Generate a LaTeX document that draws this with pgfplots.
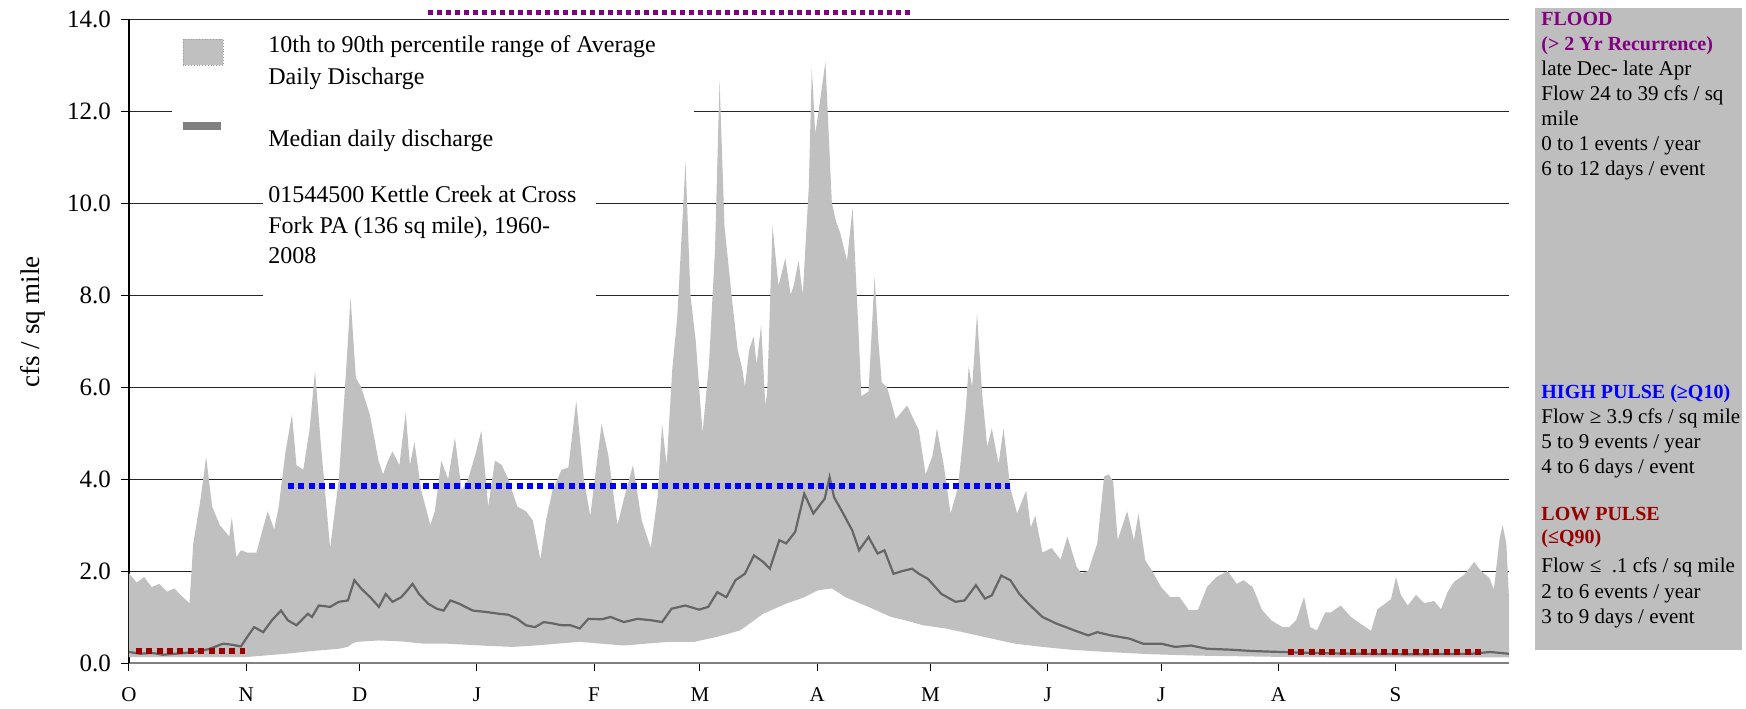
\documentclass[border=0pt]{standalone}
\usepackage{fontspec}
\setmainfont{Liberation Serif}
\usepackage{pgfplots}
\usepackage{pgfplotstable}
\pgfplotsset{compat=1.18}

\definecolor{band}{HTML}{C0C0C0}
\definecolor{medline}{HTML}{666666}
\definecolor{flood}{HTML}{800080}
\definecolor{highp}{HTML}{0000FF}
\definecolor{lowp}{HTML}{990000}
\definecolor{panel}{HTML}{BEBEBE}

% band outline: 90th percentile from 1 Oct to 30 Sep, then 10th percentile back
% (day of water year, cfs / sq mile)
\pgfplotstableread{
day q
0 1.95
2 1.75
4 1.87
6 1.65
8 1.72
10 1.55
12 1.62
14 1.45
16 1.30
17 2.6
19 3.6
20.4 4.48
22 3.4
24 3.0
26.5 2.75
27.2 3.17
28.4 2.3
29.6 2.45
31.3 2.4
33.7 2.4
35.5 2.95
36.7 3.3
38.4 2.9
39.6 3.4
41.4 4.6
43.1 5.4
44.3 4.3
46.1 4.2
47.8 5.1
49.2 6.35
50.8 4.7
53.2 2.5
55.5 4.0
57.3 6.2
58.6 7.95
60 6.2
61.4 6.0
63.7 5.4
66 4.4
67.2 4.1
68.5 4.4
69.7 4.6
71.5 4.3
73.2 5.45
74.3 4.3
75.5 4.8
77.3 3.75
79.7 3.0
80.9 3.3
82.6 4.4
84.4 4.0
86.2 4.9
88 3.75
89.7 4.0
91.5 4.5
93.2 5.05
95 3.4
96.8 4.4
98.6 4.3
100.3 4.0
102.7 3.4
105 3.3
106.8 3.1
108.8 2.25
110.3 3.1
112 3.75
114.4 4.2
116.2 4.25
118.3 5.7
120.3 4.0
122 3.2
125 5.2
126.8 4.5
129.2 3.0
131 3.6
133.3 4.3
135.6 3.1
138 2.5
139.8 3.6
141 5.2
142.2 4.3
143.7 6.4
145 7.5
147.2 10.9
148.5 8.0
149.9 7.0
151.7 5.0
153.4 6.5
155 9.0
156.2 12.67
157.5 9.5
159.5 7.9
161 6.8
162.2 6.4
162.9 6.0
164 6.8
165.2 7.1
166 6.5
167.2 7.35
168.3 5.6
168.8 5.9
170.2 9.5
171.8 8.2
173.6 8.8
175 8.0
175.8 8.2
177.1 8.75
178.2 8.0
179.8 10.35
180.6 12.96
181.5 11.5
182.4 12.0
184.2 13.07
185.9 10.0
187 9.6
188.1 9.35
189.9 8.75
191.4 9.9
192.5 8.0
193.4 6.4
193.7 5.8
195.6 5.9
197.2 8.4
198.2 7.0
199.1 6.1
200.5 6.0
202.8 5.3
205.8 5.6
208.9 5.06
210.7 4.1
212.5 4.5
213.7 5.1
215.5 4.3
217.3 3.25
219.2 3.8
220.4 4.7
221.3 5.5
222.1 6.45
223 6.0
224.3 7.6
225.6 5.9
227 4.7
228.2 5.1
230 4.33
231.3 5.1
233.1 3.8
234.9 3.25
237.3 3.75
238.5 2.95
239.7 3.2
241.6 2.4
244 2.5
246.4 2.25
248.2 2.75
250.6 2.1
251.8 1.95
253.7 2.0
256.1 2.6
257.9 4.05
259.1 4.1
260.3 3.95
261.5 2.67
264 3.3
265.8 2.67
267 3.25
268.8 2.23
270.6 2.0
273 1.65
275.4 1.43
277.9 1.43
280.3 1.15
282.7 1.15
285.1 1.65
287.6 1.87
290.6 2.0
293 1.72
294.8 1.8
297.2 1.65
299.7 1.15
302.1 0.93
305.1 0.78
306.9 0.78
308.7 0.93
310.8 1.43
312.4 0.78
314.2 0.71
316.4 1.1
317.9 1.1
320.5 1.25
323.2 1.0
325.8 0.85
328.5 0.7
330.2 1.17
332.4 1.3
333.8 1.39
335.1 1.87
336.4 1.48
338.2 1.25
340.4 1.48
342.6 1.3
345.2 1.35
347 1.17
348.8 1.55
350.5 1.77
353.2 1.92
355.8 2.2
357.6 2.0
359.8 1.85
361 1.6
362.5 2.7
363.3 3.0
364.3 2.6
365 1.4
365 0.12
327 0.12
306.9 0.13
294.8 0.145
282.7 0.16
270.6 0.19
258.5 0.24
248.9 0.29
241.6 0.35
234.3 0.42
228.2 0.53
222.2 0.64
216.1 0.75
210.1 0.82
205.2 0.93
201.6 1.0
195.6 1.22
189.5 1.43
185.9 1.62
182.2 1.58
178.6 1.43
173.8 1.29
167.7 1.07
161.7 0.71
155.6 0.57
149.5 0.46
142.7 0.46
136.8 0.42
130.9 0.38
125 0.42
119.2 0.46
113.3 0.42
107.4 0.38
101.5 0.35
95.6 0.37
84 0.42
78 0.42
72 0.47
66 0.49
60.2 0.46
59 0.42
57.9 0.35
55.5 0.31
48.4 0.26
41.4 0.2
31 0.13
0 0.13
}\bandtab

\pgfplotstableread{
day q50
0 0.24
3 0.2
6 0.22
9 0.18
12 0.2
15 0.22
18 0.25
21 0.3
24.9 0.42
27 0.4
29.6 0.36
31.3 0.57
33.1 0.78
35.5 0.67
37.8 0.93
40.2 1.14
42 0.93
44.3 0.82
47.3 1.07
48.4 1.0
50.2 1.25
53.2 1.22
55.5 1.33
57.9 1.36
59.6 1.8
61.4 1.62
63.8 1.43
66.1 1.22
67.9 1.5
69.7 1.33
72 1.43
73.2 1.54
75 1.72
76.7 1.5
79.1 1.29
81.4 1.18
83.2 1.14
85 1.36
87.3 1.29
90.9 1.14
94.4 1.11
97.9 1.07
100.3 1.05
102.7 0.96
105 0.82
107.4 0.78
109.7 0.89
112.1 0.86
114.4 0.82
116.8 0.82
119.2 0.75
121.5 0.96
125 0.95
127.4 1.0
130.9 0.89
134.5 0.96
138 0.93
141 0.89
143.5 1.18
147.1 1.25
150.8 1.16
153.2 1.22
155.6 1.54
158 1.43
160.4 1.8
162.9 1.94
165.3 2.34
167.7 2.2
169.5 2.05
172 2.67
173.8 2.6
176.2 2.85
178.6 3.68
181 3.25
184 3.57
185.3 4.04
186.5 3.6
188.9 3.25
191.3 2.88
193.1 2.45
195.6 2.74
198 2.38
199.8 2.45
202.2 1.94
204.6 2.0
207.1 2.05
208.9 1.94
211.3 1.83
214.9 1.5
218.6 1.33
221 1.36
224 1.69
226.4 1.4
228.2 1.47
230.7 1.9
233.1 1.8
235.5 1.5
237.9 1.29
241.6 1.0
245.2 0.86
250 0.71
253.7 0.6
256.1 0.67
259.7 0.6
264.6 0.53
268.2 0.42
273 0.42
276.7 0.35
280.9 0.38
285.1 0.31
291.2 0.29
297.2 0.26
304.5 0.24
313 0.22
325 0.2
340 0.19
355 0.2
360 0.24
365 0.2
}\medtab

\begin{document}
\begin{tikzpicture}
\begin{axis}[
  at={(64.5pt,21.5pt)}, anchor=south west,
  scale only axis, width=690pt, height=322pt,
  xmin=0, xmax=365, ymin=0, ymax=14,
  clip=false,
  axis x line*=bottom, axis y line*=left,
  x axis line style={draw=black!50, line width=1pt},
  y axis line style={draw=black, line width=0.6pt},
  xtick={0,31,61,92,123,151,182,212,243,273,304,335},
  xticklabels={O,N,D,J,F,M,A,M,J,J,A,S},
  ytick={0,2,4,6,8,10,12,14},
  ymajorgrids,
  grid style={black!85, line width=0.5pt},
  tick align=outside,
  major tick length=4pt,
  tick style={black, line width=0.5pt},
  yticklabel style={font=\fontsize{12.5}{12.5}\selectfont, xshift=-1.5pt},
  yticklabel={\pgfmathprintnumber[fixed,fixed zerofill,precision=1,assume math mode=true]{\tick}},
  xticklabel style={font=\fontsize{10.5}{10.5}\selectfont, yshift=-5pt},
  ylabel={cfs / sq mile},
  ylabel style={font=\fontsize{13.5}{13.5}\selectfont, at={(axis description cs:-0.07,0.53)}, anchor=center, rotate=0},
]
% white boxes of the legend and the station note hide the gridlines
\addplot[fill=white, draw=none, forget plot] coordinates {(11.3,11.5) (149.4,11.5) (149.4,13.85) (11.3,13.85)} -- cycle;
\addplot[fill=white, draw=none, forget plot] coordinates {(35.4,7.9) (123.5,7.9) (123.5,11.5) (35.4,11.5)} -- cycle;

\addplot[fill=band, draw=none] table[x=day, y=q] {\bandtab} -- cycle;

\addplot[medline, line width=1.1pt, mark=none] table[x=day, y=q50] {\medtab};

% flood, high pulse and low pulse levels
\addplot[flood, line width=2.5pt, dash pattern=on 2.5pt off 2pt] coordinates {(79,14.14) (207.5,14.14)};
\addplot[highp, line width=3pt, dash pattern=on 3pt off 2.2pt] coordinates {(42,3.85) (233,3.85)};
\addplot[lowp, line width=3pt, dash pattern=on 3pt off 2.2pt] coordinates {(1.8,0.26) (30.6,0.26)};
\addplot[lowp, line width=3pt, dash pattern=on 3pt off 2.2pt] coordinates {(306.5,0.25) (358,0.25)};
\end{axis}

% legend
\fill[band] (91.5pt,320.5pt) rectangle (111.5pt,333.5pt);
\draw[black!40, densely dotted] (91.5pt,320.5pt) rectangle (111.5pt,333.5pt);
\fill[black!50] (91.5pt,288pt) rectangle (110.5pt,292pt);
\begin{scope}[every node/.style={anchor=base west, inner sep=0pt, font=\fontsize{12}{12}\selectfont}]
\node at (134pt,326.5pt) {10th to 90th percentile range of Average};
\node at (134pt,310.5pt) {Daily Discharge};
\node at (134pt,279.5pt) {Median daily discharge};
\node at (134pt,251.5pt) {01544500 Kettle Creek at Cross};
\node at (134pt,236pt) {Fork PA (136 sq mile), 1960-};
\node at (134pt,221pt) {2008};
\end{scope}

% side panel
\fill[panel] (767.5pt,28pt) rectangle (871pt,349pt);
\begin{scope}[every node/.style={anchor=base west, inner sep=0pt, font=\fontsize{10.5}{10.5}\selectfont}]
\node[text=flood, font=\fontsize{10}{10}\selectfont\bfseries] at (770.5pt,340pt) {FLOOD};
\node[text=flood, font=\fontsize{10}{10}\selectfont\bfseries] at (770.5pt,327.5pt) {(> 2 Yr Recurrence)};
\node at (770.5pt,315pt) {late Dec- late Apr};
\node at (770.5pt,302.5pt) {Flow 24 to 39 cfs / sq};
\node at (770.5pt,290pt) {mile};
\node at (770.5pt,277.5pt) {0 to 1 events / year};
\node at (770.5pt,265pt) {6 to 12 days / event};
\node[text=highp, font=\fontsize{10}{10}\selectfont\bfseries] at (770.5pt,154pt) {HIGH PULSE (≥Q10)};
\node at (770.5pt,141.5pt) {Flow ≥ 3.9 cfs / sq mile};
\node at (770.5pt,129pt) {5 to 9 events / year};
\node at (770.5pt,116.5pt) {4 to 6 days / event};
\node[text=lowp, font=\fontsize{10}{10}\selectfont\bfseries] at (770.5pt,93pt) {LOW PULSE};
\node[text=lowp, font=\fontsize{10}{10}\selectfont\bfseries] at (770.5pt,81.5pt) {(≤Q90)};
\node at (770.5pt,67pt) {Flow ≤ \ .1 cfs / sq mile};
\node at (770.5pt,54pt) {2 to 6 events / year};
\node at (770.5pt,41.5pt) {3 to 9 days / event};
\end{scope}
\useasboundingbox (0,0) rectangle (873pt,353pt);
\end{tikzpicture}
\end{document}
